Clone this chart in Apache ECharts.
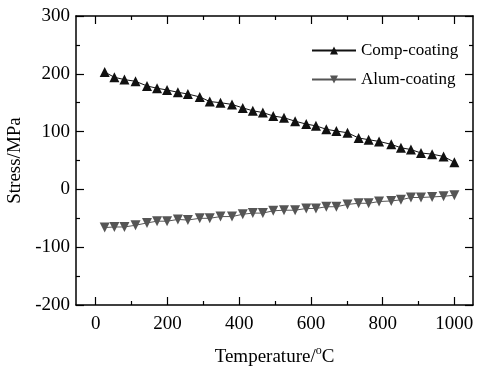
<!DOCTYPE html>
<html>
<head>
<meta charset="utf-8">
<script src="https://cdn.jsdelivr.net/npm/echarts@6/dist/echarts.min.js"></script>
<style>
  html, body { margin: 0; padding: 0; background: #fff; }
  #chart { width: 482px; height: 369px; }
</style>
</head>
<body>
<div id="chart"></div>
<script>
// values
const temps = [25, 52, 80, 111, 143, 171, 199, 229, 257, 290, 318, 348, 380, 410, 438, 466, 495,
    525, 556, 587, 614, 643, 671, 702, 733, 761, 790, 824, 851, 879, 907, 938, 970, 1000];
const compCoating = [203, 194, 190, 187, 179, 175, 172, 168, 165, 160, 152, 150, 147, 141, 136, 133, 127,
    124, 118, 113, 110, 104, 101, 98, 89, 86, 83, 78, 72, 69, 63, 61, 57, 47];
const alumCoating = [-66, -65, -65, -62, -58, -55, -55, -52, -53, -50, -50, -47, -47, -43, -41, -41, -37,
    -36, -36, -33, -33, -30, -30, -26, -24, -24, -21, -20, -18, -14, -14, -13, -12, -10];
const xMajor = [0, 200, 400, 600, 800, 1000];
const xMinor = [100, 300, 500, 700, 900];

const font = 'Liberation Serif';
const black = '#000';

function pairs(ys) {
    return temps.map((t, i) => [t, ys[i]]);
}

const chart = echarts.init(document.getElementById('chart'));

function xAxisCfg(pos, ticks, len, withLabel, withLine) {
    return {
        type: 'value',
        position: pos,
        min: -55,
        max: 1052,
        axisLine: { show: withLine, onZero: false, lineStyle: { color: black, width: 1.5 } },
        axisTick: { show: true, inside: true, length: len, customValues: ticks, lineStyle: { color: black, width: 1.2 } },
        axisLabel: withLabel
            ? { show: true, customValues: ticks, margin: 10, color: black, fontFamily: font, fontSize: 19,
                formatter: v => String(v) }
            : { show: false },
        splitLine: { show: false }
    };
}

const bottom = xAxisCfg('bottom', xMajor, 8, true, true);
bottom.name = '{a|Temperature/}{s|o}{a|C}';
bottom.nameLocation = 'middle';
bottom.nameGap = 40;
bottom.nameTextStyle = {
    rich: {
        a: { fontFamily: font, fontSize: 19, color: black },
        s: { fontFamily: font, fontSize: 12, color: black, verticalAlign: 'bottom', padding: [0, 0, 12, 0] }
    }
};

const option = {
    animation: false,
    backgroundColor: '#fff',
    grid: { left: 76, right: 9, top: 16, bottom: 64, outerBoundsMode: 'none' },
    legend: {
        orient: 'vertical',
        left: 306,
        top: 37,
        itemWidth: 44,
        itemHeight: 10,
        itemGap: 12,
        textStyle: { fontFamily: font, fontSize: 17, color: black },
        data: ['Comp-coating', 'Alum-coating']
    },
    xAxis: [
        bottom,
        xAxisCfg('bottom', xMinor, 4, false, false),
        xAxisCfg('top', xMajor, 8, false, true),
        xAxisCfg('top', xMinor, 4, false, false)
    ],
    yAxis: [
        {
            type: 'value',
            position: 'left',
            min: -200,
            max: 300,
            interval: 100,
            name: 'Stress/MPa',
            nameLocation: 'middle',
            nameGap: 47,
            nameTextStyle: { fontFamily: font, fontSize: 19, color: black },
            axisLine: { show: true, onZero: false, lineStyle: { color: black, width: 1.5 } },
            axisTick: { inside: true, length: 8, lineStyle: { color: black, width: 1.2 } },
            minorTick: { show: true, splitNumber: 2, length: 4, lineStyle: { color: black, width: 1.2 } },
            axisLabel: { margin: 6, color: black, fontFamily: font, fontSize: 19 },
            splitLine: { show: false }
        },
        {
            type: 'value',
            position: 'right',
            min: -200,
            max: 300,
            interval: 100,
            axisLine: { show: true, onZero: false, lineStyle: { color: black, width: 1.5 } },
            axisTick: { inside: true, length: 8, lineStyle: { color: black, width: 1.2 } },
            minorTick: { show: true, splitNumber: 2, length: 4, lineStyle: { color: black, width: 1.2 } },
            axisLabel: { show: false },
            splitLine: { show: false }
        }
    ],
    series: [
        {
            name: 'Comp-coating',
            type: 'line',
            data: pairs(compCoating),
            symbol: 'triangle',
            symbolSize: 10,
            itemStyle: { color: '#111' },
            lineStyle: { color: '#111', width: 1 }
        },
        {
            name: 'Alum-coating',
            type: 'line',
            data: pairs(alumCoating),
            symbol: 'triangle',
            symbolRotate: 180,
            symbolSize: 10,
            itemStyle: { color: '#555' },
            lineStyle: { color: '#555', width: 1 }
        }
    ]
};

chart.setOption(option);
</script>
</body>
</html>
